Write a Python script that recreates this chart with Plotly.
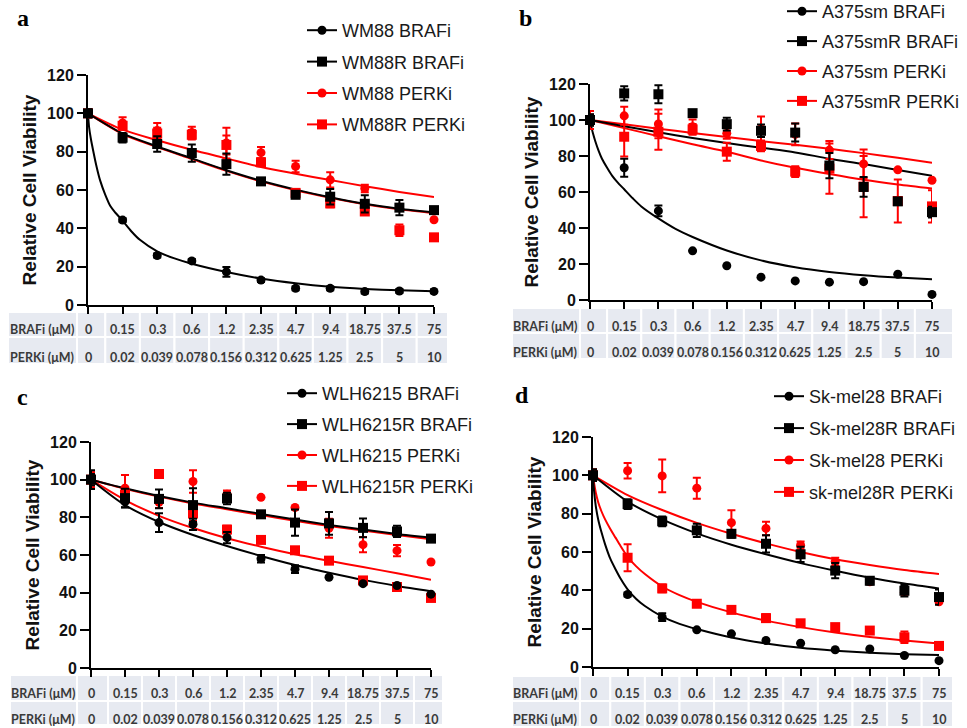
import plotly.graph_objects as go

W, H = 967, 728
PAGE_OFFSET = 0  # body margin is removed by the post script below

# ---------------- shared categories / table labels ----------------
IDX = list(range(11))
BRAFI_UM = ["0", "0.15", "0.3", "0.6", "1.2", "2.35", "4.7", "9.4", "18.75", "37.5", "75"]
PERKI_UM = ["0", "0.02", "0.039", "0.078", "0.156", "0.312", "0.625", "1.25", "2.5", "5", "10"]
ROW_LABELS = ["BRAFi (μM)", "PERKi (μM)"]
Y_TICKS = [0, 20, 40, 60, 80, 100, 120]
FINE_X = [0, 0.03, 0.08, 0.15, 0.25, 0.35, 0.5, 0.65, 0.8, 1, 1.25, 1.5, 2, 2.5, 3, 4, 5, 6, 7, 8, 9, 10]

# ---------------- panel a ----------------
A_NAMES = ["WM88 BRAFi", "WM88R BRAFi", "WM88 PERKi", "WM88R PERKi"]
A_WM88_BRAFI = [100, 44.3, 25.8, 23, 17.3, 13, 8.7, 8.7, 7, 7.3, 7.1]
A_WM88_BRAFI_ERR = [2, 1, 1, 1, 2.5, 1, 1, 1, 1, 1, 1]
A_WM88R_BRAFI = [100, 87.3, 84, 79.3, 73.5, 64.5, 57.5, 56.5, 52.8, 50.8, 49.5]
A_WM88R_BRAFI_ERR = [2, 2.5, 4, 4.5, 5.5, 1.5, 1.5, 4, 4.5, 4, 1]
A_WM88_PERKI = [100, 95, 91, 90, 84.5, 79.5, 72.3, 65.3, 60.8, 51, 44.5]
A_WM88_PERKI_ERR = [2, 3, 4, 3, 8, 3, 3, 4, 2, 0, 0]
A_WM88R_PERKI = [100, 93.5, 89.5, 88.8, 83.5, 74.5, 58.5, 53, 48.8, 39, 35.3]
A_WM88R_PERKI_ERR = [2, 2, 3, 2.5, 5, 2, 1, 2, 1.5, 3, 0]
A_FIT_WM88_BRAFI = [100, 93, 87, 80.5, 72, 65, 57.5, 51.5, 48, 44, 38.5, 34, 28, 24.3, 21.5, 17.2, 13.8, 11.3, 9.5, 8.4, 7.7, 7.2]
A_FIT_WM88R_BRAFI = [100, 89.5, 82.7, 76.5, 70.3, 64.8, 60.2, 56.2, 52.8, 50.2, 48.3]
A_FIT_WM88_PERKI = [100, 91.5, 86, 81, 76.5, 72, 68.5, 65.2, 62, 59, 56.3]
A_FIT_WM88R_PERKI = [100, 89.2, 82.4, 76.2, 70, 64.5, 59.9, 56, 52.6, 50, 48]

# ---------------- panel b ----------------
B_NAMES = ["A375sm BRAFi", "A375smR BRAFi", "A375sm PERKi", "A375smR PERKi"]
B_A375SM_BRAFI = [100, 73.5, 49.5, 27.3, 19, 12.7, 10.6, 9.9, 10.2, 14.3, 3.1]
B_A375SM_BRAFI_ERR = [3, 5, 3, 0, 0, 0, 0, 0, 0, 0, 0]
B_A375SMR_BRAFI = [100, 114.8, 114.3, 103.8, 97.7, 94, 93, 74.7, 62.8, 54.8, 48.8]
B_A375SMR_BRAFI_ERR = [3, 4, 5, 1.5, 3.5, 3.5, 5, 7, 5.5, 1, 3]
B_A375SM_PERKI = [100, 102.3, 97.8, 96.3, 92.6, 95, 92, 83.3, 75.6, 72.3, 66.5]
B_A375SM_PERKI_ERR = [3, 5, 8, 4, 3, 7, 6, 5, 8, 0, 0]
B_A375SMR_PERKI = [100, 90.7, 93.5, 94.8, 82.4, 85.6, 71.3, 73, 63, 55, 52]
B_A375SMR_PERKI_ERR = [5, 11, 10, 3, 5, 3, 3, 14, 17, 12, 9]
B_FIT_A375SM_BRAFI = [100, 97, 93, 88.5, 83, 78.5, 73.5, 69, 65.5, 61.5, 56.5, 52, 45.3, 39.5, 35, 27.5, 22, 18.2, 15.6, 13.8, 12.5, 11.5]
B_FIT_A375SMR_BRAFI = [100, 96.5, 93.2, 90, 87.2, 84.6, 82, 78.5, 75.5, 72.2, 69]
B_FIT_A375SM_PERKI = [100, 97.6, 95.2, 92.8, 90.5, 88.3, 86.2, 84, 81.6, 79, 76.3]
B_FIT_A375SMR_PERKI = [100, 95.5, 91, 86.5, 82.4, 77.5, 73.5, 70, 66.8, 64.2, 62]

# ---------------- panel c ----------------
C_NAMES = ["WLH6215 BRAFi", "WLH6215R BRAFi", "WLH6215 PERKi", "WLH6215R PERKi"]
C_WLH_BRAFI = [100, 88.3, 77.2, 76.3, 69.2, 58, 52.5, 48.2, 44.8, 43.8, 39.2]
C_WLH_BRAFI_ERR = [3, 3, 5, 3, 3, 2, 2, 0, 0, 0, 0]
C_WLHR_BRAFI = [100, 90.2, 89.8, 86.5, 90, 81.6, 77.2, 76.8, 74.4, 72.5, 68.7]
C_WLHR_BRAFI_ERR = [5, 5, 5, 9, 3, 1, 7, 6, 5, 3, 1]
C_WLH_PERKI = [100, 95.5, 88, 99, 92.3, 90.6, 85.2, 74.2, 65.5, 62.3, 56.3]
C_WLH_PERKI_ERR = [4, 7, 3, 6, 2, 0, 0, 5, 4, 3, 0]
C_WLHR_PERKI = [100, 92, 103, 82, 73.5, 68, 62.5, 57, 46.5, 43, 37.2]
C_WLHR_PERKI_ERR = [4, 3, 2, 4, 2, 1, 1, 1, 1, 1, 1]
C_FIT_WLH_BRAFI = [100, 86.5, 77.5, 70.6, 64.8, 59.5, 54.7, 50.6, 46.8, 43.6, 40.8]
C_FIT_WLHR_BRAFI = [100, 95.4, 91.3, 87.8, 84.8, 81.8, 78.8, 76, 73.6, 71.2, 69.2]
C_FIT_WLH_PERKI = [100, 95.2, 91, 87.4, 84.3, 81.2, 78.2, 75.4, 73, 70.6, 68.3]
C_FIT_WLHR_PERKI = [100, 89.2, 80.8, 74.3, 68.9, 64.4, 60.4, 56.9, 53.6, 50.3, 46.8]

# ---------------- panel d ----------------
D_NAMES = ["Sk-mel28 BRAFi", "Sk-mel28R BRAFi", "Sk-mel28 PERKi", "sk-mel28R PERKi"]
D_SK_BRAFI = [100, 37.8, 26, 19.4, 17.3, 13.8, 12.4, 9, 9.4, 6, 3.3]
D_SK_BRAFI_ERR = [3, 1, 2, 0, 0, 0, 0, 0, 0, 0, 0]
D_SKR_BRAFI = [100, 85, 76, 71.3, 69.5, 64.3, 58.8, 50.3, 45, 39.8, 36.5]
D_SKR_BRAFI_ERR = [3, 2.5, 2.5, 3.5, 2, 4.5, 4, 4, 2, 3, 4]
D_SK_PERKI = [100, 102.4, 99.7, 93.3, 75.3, 72.3, 63.5, 55, 44.5, 39, 34]
D_SK_PERKI_ERR = [3, 4, 8.5, 5.5, 6.5, 3.5, 2, 2, 1, 1, 1]
D_SKR_PERKI = [100, 57, 41, 33, 29.8, 25.5, 22.8, 20.8, 19, 15.5, 11]
D_SKR_PERKI_ERR = [3, 7, 2, 1, 1, 2, 1, 1, 1, 3, 1]
D_FIT_SK_BRAFI = [100, 92, 84, 77, 70, 64, 56.5, 51, 46, 40.5, 35.5, 31.8, 26.3, 22.5, 19.8, 15.4, 12.3, 10, 8.5, 7.4, 6.7, 6.2]
D_FIT_SKR_BRAFI = [100, 86.3, 77, 69.7, 63.8, 58.8, 54.2, 50.2, 46.6, 43.6, 41]
D_FIT_SK_PERKI = [100, 89.7, 81.9, 75.2, 69.5, 64.5, 60, 56.2, 53.2, 50.6, 48.5]
D_FIT_SKR_PERKI = [100, 96, 91, 86, 81, 77, 72, 67.5, 63, 57.5, 52.5, 48.5, 42, 37.5, 34, 28.5, 24.2, 20.8, 18, 15.7, 13.8, 12.2]

BLACK = "#000000"
RED = "#ff0000"

# layout geometry (screen pixels) for each panel
PANELS = [
    dict(label="a", names=A_NAMES,
         series=[(A_WM88_BRAFI, A_WM88_BRAFI_ERR, FINE_X, A_FIT_WM88_BRAFI),
                 (A_WM88R_BRAFI, A_WM88R_BRAFI_ERR, IDX, A_FIT_WM88R_BRAFI),
                 (A_WM88_PERKI, A_WM88_PERKI_ERR, IDX, A_FIT_WM88_PERKI),
                 (A_WM88R_PERKI, A_WM88R_PERKI_ERR, IDX, A_FIT_WM88R_PERKI)],
         x0=88, x1=434, ytop=75, ybot=305,
         lab=(23, 18), leg=(319, 32), leggap=5,
         tab=dict(left=8, split=77, right=448, top=312, mid=337, bot=364, r1=330, r2=357, labx=42)),
    dict(label="b", names=B_NAMES,
         series=[(B_A375SM_BRAFI, B_A375SM_BRAFI_ERR, FINE_X, B_FIT_A375SM_BRAFI),
                 (B_A375SMR_BRAFI, B_A375SMR_BRAFI_ERR, IDX, B_FIT_A375SMR_BRAFI),
                 (B_A375SM_PERKI, B_A375SM_PERKI_ERR, IDX, B_FIT_A375SM_PERKI),
                 (B_A375SMR_PERKI, B_A375SMR_PERKI_ERR, IDX, B_FIT_A375SMR_PERKI)],
         x0=590, x1=932, ytop=84, ybot=300,
         lab=(525, 18), leg=(799, 13), leggap=3.5,
         tab=dict(left=512, split=580, right=953, top=308, mid=333, bot=359, r1=326, r2=352, labx=545)),
    dict(label="c", names=C_NAMES,
         series=[(C_WLH_BRAFI, C_WLH_BRAFI_ERR, IDX, C_FIT_WLH_BRAFI),
                 (C_WLHR_BRAFI, C_WLHR_BRAFI_ERR, IDX, C_FIT_WLHR_BRAFI),
                 (C_WLH_PERKI, C_WLH_PERKI_ERR, IDX, C_FIT_WLH_PERKI),
                 (C_WLHR_PERKI, C_WLHR_PERKI_ERR, IDX, C_FIT_WLHR_PERKI)],
         x0=91, x1=431, ytop=442, ybot=668,
         lab=(22, 397), leg=(299, 395), leggap=4.5,
         tab=dict(left=10, split=77, right=443, top=675, mid=701, bot=725, r1=693, r2=719, labx=43)),
    dict(label="d", names=D_NAMES,
         series=[(D_SK_BRAFI, D_SK_BRAFI_ERR, FINE_X, D_FIT_SK_BRAFI),
                 (D_SKR_BRAFI, D_SKR_BRAFI_ERR, IDX, D_FIT_SKR_BRAFI),
                 (D_SK_PERKI, D_SK_PERKI_ERR, IDX, D_FIT_SK_PERKI),
                 (D_SKR_PERKI, D_SKR_PERKI_ERR, FINE_X, D_FIT_SKR_PERKI)],
         x0=593, x1=939, ytop=437, ybot=667,
         lab=(522, 395), leg=(786, 398), leggap=5.5,
         tab=dict(left=512, split=580, right=953, top=676, mid=701, bot=727, r1=693, r2=719, labx=545)),
]

STYLES = [  # colour, symbol, marker size
    (BLACK, "circle", 9),
    (BLACK, "square", 10),
    (RED, "circle", 9),
    (RED, "square", 10),
]
DRAW_ORDER = [3, 2, 1, 0]

AX_FONT = "Liberation Sans, Arial, sans-serif"
TAB_FONT = "Lato, Carlito, sans-serif"

def px(x):
    return (x - PAGE_OFFSET) / W

def py(y):
    return 1 - (y - PAGE_OFFSET) / H

fig = go.Figure()
layout = dict(width=W, height=H, margin=dict(l=0, r=0, t=0, b=0, autoexpand=False),
              paper_bgcolor="white", plot_bgcolor="white", showlegend=True)
shapes, annotations = [], []

for k, p in enumerate(PANELS, start=1):
    xa = "x" if k == 1 else f"x{k}"
    ya = "y" if k == 1 else f"y{k}"
    lg = "legend" if k == 1 else f"legend{k}"
    xkey = "xaxis" if k == 1 else f"xaxis{k}"
    ykey = "yaxis" if k == 1 else f"yaxis{k}"

    # fitted curves
    for j in DRAW_ORDER:
        vals, err, fx, fy = p["series"][j]
        col, sym, size = STYLES[j]
        fig.add_trace(go.Scatter(x=fx, y=fy, mode="lines", line=dict(color=col, width=2, shape="spline", smoothing=0.8),
                                 xaxis=xa, yaxis=ya, showlegend=False, hoverinfo="skip"))
    # data points
    for j in DRAW_ORDER:
        vals, err, fx, fy = p["series"][j]
        col, sym, size = STYLES[j]
        fig.add_trace(go.Scatter(x=IDX, y=vals, mode="markers", cliponaxis=False,
                                 marker=dict(color=col, symbol=sym, size=size, line=dict(width=0)),
                                 error_y=dict(type="data", array=err, visible=True, color=col, thickness=2, width=4),
                                 xaxis=xa, yaxis=ya, showlegend=False))
    # legend entries
    for j in range(4):
        col, sym, size = STYLES[j]
        fig.add_trace(go.Scatter(x=[None], y=[None], mode="lines+markers", name=p["names"][j],
                                 marker=dict(color=col, symbol=sym, size=size),
                                 line=dict(color=col, width=2),
                                 legend=lg, legendgroup=f"{k}-{j}", legendrank=j + 1,
                                 xaxis=xa, yaxis=ya))

    lx, ly = p["leg"]
    layout[lg] = dict(x=px(lx - 17), y=py(ly - 20), xanchor="left", yanchor="top",
                      bgcolor="rgba(0,0,0,0)", traceorder="grouped", tracegroupgap=p["leggap"],
                      itemwidth=30, font=dict(family=AX_FONT, size=18, color="#1a1a1a"))

    layout[xkey] = dict(domain=[px(p["x0"]), px(p["x1"])], range=[0, 10], anchor=ya,
                        showline=True, linecolor="black", linewidth=2, ticks="outside",
                        tickvals=IDX, ticklen=7, tickwidth=2, tickcolor="black",
                        showticklabels=False, showgrid=False, zeroline=False)
    layout[ykey] = dict(domain=[py(p["ybot"]), py(p["ytop"])], range=[0, 120], anchor=xa,
                        showline=True, linecolor="black", linewidth=2, ticks="outside",
                        tickvals=Y_TICKS, ticklen=9, tickwidth=2, tickcolor="black",
                        tickfont=dict(family=AX_FONT, size=16, color="#111111", weight="bold"),
                        showgrid=False, zeroline=False,
                        title=dict(text="Relative Cell Viability", standoff=5,
                                   font=dict(family=AX_FONT, size=19, color="#111111", weight="bold")))

    # panel letter
    annotations.append(dict(text="<b>%s</b>" % p["label"], x=px(p["lab"][0]), y=py(p["lab"][1]),
                            xref="paper", yref="paper", showarrow=False, xanchor="center", yanchor="middle",
                            font=dict(family="Liberation Serif, Times New Roman, serif", size=24, color="black")))

    # table below the x axis
    t = p["tab"]
    step = (p["x1"] - p["x0"]) / 10.0
    bounds = [t["left"], t["split"]] + [p["x0"] + (i + 0.5) * step for i in range(10)] + [t["right"]]
    for (ra, rb) in [(t["top"], t["mid"]), (t["mid"], t["bot"])]:
        for c in range(len(bounds) - 1):
            shapes.append(dict(type="rect", xref="paper", yref="paper",
                               x0=px(bounds[c]), x1=px(bounds[c + 1]), y0=py(rb), y1=py(ra),
                               fillcolor="#e7eaf1", line=dict(color="white", width=2), layer="below"))
    for ry, lab, row in [(t["r1"], ROW_LABELS[0], BRAFI_UM), (t["r2"], ROW_LABELS[1], PERKI_UM)]:
        annotations.append(dict(text="<b>%s</b>" % lab, x=px(t["labx"]), y=py(ry), xref="paper", yref="paper",
                                showarrow=False, xanchor="center", yanchor="middle",
                                font=dict(family=TAB_FONT, size=12.5, color="#3a3a3a")))
        for i, s in zip(IDX, row):
            annotations.append(dict(text="<b>%s</b>" % s, x=i, xref=xa, y=py(ry), yref="paper",
                                    showarrow=False, xanchor="center", yanchor="middle",
                                    font=dict(family=TAB_FONT, size=12.5, color="#3a3a3a")))

layout["shapes"] = shapes
layout["annotations"] = annotations
fig.update_layout(**layout)
fig.write_html("out.html", config={"displayModeBar": False},
               post_script="document.body.style.margin='0px';")
